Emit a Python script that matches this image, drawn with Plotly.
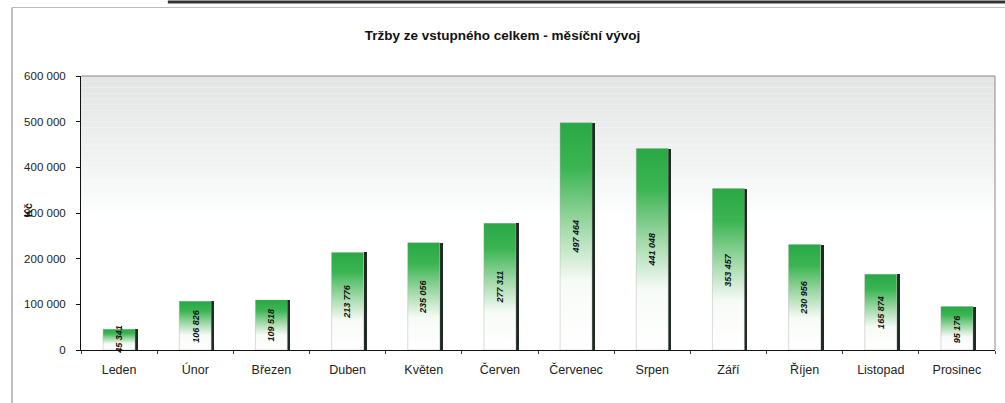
import plotly.graph_objects as go

months = ['Leden', 'Únor', 'Březen', 'Duben', 'Květen', 'Červen',
          'Červenec', 'Srpen', 'Září', 'Říjen', 'Listopad', 'Prosinec']
revenue = [45341, 106826, 109518, 213776, 235056, 277311,
           497464, 441048, 353457, 230956, 165874, 95176]
y_ticks = [0, 100000, 200000, 300000, 400000, 500000, 600000]

title_text = 'Tržby ze vstupného celkem - měsíční vývoj'
y_title = 'Kč'

font_family = 'Liberation Sans, Arial, sans-serif'
green_scale = [[0, '#ffffff'], [0.3, '#f7fbf7'], [0.55, '#9fd8a6'],
               [0.8, '#3bb552'], [1, '#2aa846']]
half_w = 0.21

fig = go.Figure()

# dark "3D" side of each bar
fig.add_trace(go.Bar(
    x=[i + half_w + 0.02 for i in range(len(months))],
    y=revenue,
    width=0.04,
    marker=dict(color='#1e2a22', line=dict(width=0)),
    hoverinfo='skip'
))

# main bars with vertical gradient
for i, v in enumerate(revenue):
    fig.add_trace(go.Scatter(
        x=[i - half_w, i + half_w, i + half_w, i - half_w, i - half_w],
        y=[0, 0, v, v, 0],
        mode='lines',
        line=dict(width=0.6, color='rgba(150,160,150,0.6)'),
        fill='toself',
        fillgradient=dict(type='vertical', colorscale=green_scale),
        name=months[i],
        hovertemplate=f'{months[i]}: %{{y:,d}}<extra></extra>'
    ))
    fig.add_annotation(
        x=i, y=v / 2, text=f'{v:,}'.replace(',', ' '),
        textangle=-90, showarrow=False,
        font=dict(family=font_family, size=9, color='#111', weight='bold', style='italic')
    )

# gray backdrop fading to white toward the middle of the plot area
n_strips = 24
for k in range(n_strips):
    y0 = 0.5 + 0.5 * k / n_strips
    y1 = 0.5 + 0.5 * (k + 1) / n_strips
    g = int(255 - (255 - 228) * ((k + 1) / n_strips) ** 0.8)
    fig.add_shape(type='rect', xref='x domain', yref='y domain',
                  x0=0, x1=1, y0=y0, y1=y1, layer='below',
                  fillcolor=f'rgb({g},{g + 1},{g + 1})', line=dict(width=0))

# plot-area frame (top and right)
fig.add_shape(type='path', xref='x domain', yref='y domain',
              path='M 0 1 L 1 1 L 1 0', line=dict(color='#888', width=1))

# outer document frame
fig.add_shape(type='line', xref='paper', yref='paper',
              x0=-0.0755, x1=-0.0755, y0=-0.2, y1=1.25,
              line=dict(color='#aaa', width=1.5))
fig.add_shape(type='line', xref='paper', yref='paper',
              x0=-0.0755, x1=1.02, y0=1.25, y1=1.25,
              line=dict(color='#bbb', width=1))
fig.add_shape(type='line', xref='paper', yref='paper',
              x0=0.095, x1=1.02, y0=1.27, y1=1.27,
              line=dict(color='#333', width=3))

fig.add_annotation(
    xref='paper', yref='paper', x=-0.058, y=0.51, text=y_title,
    textangle=-90, showarrow=False, xanchor='center', yanchor='middle',
    font=dict(family=font_family, size=11, color='#111', weight='bold')
)

fig.update_layout(
    title=dict(text=f'<b>{title_text}</b>', xref='container', yref='container',
               x=0.5, y=0.913, xanchor='center', yanchor='middle',
               font=dict(family=font_family, size=13.5, color='#111')),
    width=1005, height=403,
    margin=dict(l=81, r=10, t=76, b=53),
    paper_bgcolor='white', plot_bgcolor='white',
    separators=', ',
    showlegend=False,
    font=dict(family=font_family, size=11, color='#222'),
    bargap=0
)

fig.update_xaxes(
    range=[-0.5, len(months) - 0.5],
    tickmode='array', tickvals=list(range(len(months))), ticktext=months,
    ticks='', ticklabelstandoff=8, tickfont=dict(size=12.5),
    showgrid=False, zeroline=False,
    showline=True, linecolor='#111', linewidth=1,
    minor=dict(tick0=0.5, dtick=1, ticks='outside', ticklen=3, tickcolor='#444', showgrid=False)
)
fig.update_yaxes(
    range=[0, 600000],
    tickmode='array', tickvals=y_ticks, tickformat=',d',
    ticks='outside', ticklen=4, tickcolor='#111', ticklabelstandoff=8,
    tickfont=dict(size=11.5),
    showgrid=False, zeroline=False, automargin=False,
    showline=True, linecolor='#111', linewidth=1
)

fig.write_html('out.html', config={'displayModeBar': False},
               post_script="document.body.style.margin='0';")
